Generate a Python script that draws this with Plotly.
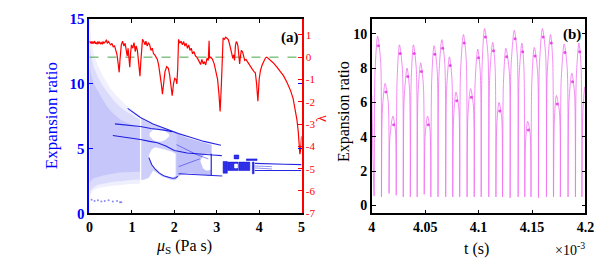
import plotly.graph_objects as go

FONT = "Liberation Serif"

# ---------------- Panel (a): bifurcation diagram (envelopes) ----------------
cloudA_mu = [0.0, 0.03, 0.1, 0.2, 0.3, 0.4, 0.5, 0.6, 0.7, 0.8, 0.9, 1.0, 1.1, 1.19]
cloudA_hi = [14.8, 13.5, 12.3, 11.4, 10.7, 10.1, 9.6, 9.2, 8.85, 8.55, 8.25, 8.0, 7.75, 7.55]
cloudA_lo = [1.2, 1.5, 1.8, 1.95, 2.0, 2.05, 2.1, 2.15, 2.2, 2.2, 2.25, 2.3, 2.3, 2.3]
midA_hi = [13.0, 12.3, 11.3, 10.5, 9.9, 9.4, 9.0, 8.6, 8.3, 8.0, 7.8, 7.6, 7.4, 7.2]
midA_lo = [1.6, 1.8, 2.0, 2.2, 2.3, 2.35, 2.4, 2.45, 2.5, 2.5, 2.55, 2.6, 2.6, 2.6]
coreA_hi = [11.5, 10.8, 10.0, 9.4, 8.8, 8.3, 7.9, 7.6, 7.3, 7.1, 6.95, 6.8, 6.7, 6.6]
coreA_lo = [2.3, 2.5, 2.7, 2.8, 2.9, 3.0, 3.05, 3.1, 3.15, 3.2, 3.2, 3.2, 3.2, 3.2]

cloudB_mu = [1.22, 1.3, 1.4, 1.5, 1.6, 1.7, 1.8, 1.9, 2.0, 2.05]
cloudB_hi = [7.35, 7.15, 7.0, 6.85, 6.7, 6.55, 6.45, 6.35, 6.25, 6.2]
cloudB_lo = [2.55, 2.6, 2.75, 3.3, 3.1, 2.85, 2.7, 2.6, 2.55, 2.6]

cloudC_mu = [2.05, 2.15, 2.25, 2.35, 2.45, 2.55, 2.65, 2.75, 2.88]
cloudC_hi = [6.15, 6.0, 5.9, 5.8, 5.7, 5.6, 5.5, 5.4, 5.3]
cloudC_lo = [2.7, 2.95, 3.05, 3.1, 3.1, 3.05, 3.0, 2.95, 2.9]

hole1_mu = [1.40, 1.47, 1.55, 1.65, 1.75, 1.85, 1.95, 2.03]
hole1_hi = [4.5, 4.95, 5.1, 5.05, 4.95, 4.85, 4.75, 4.6]
hole1_lo = [4.3, 3.75, 3.4, 3.1, 2.9, 2.8, 2.72, 2.9]
hole2_mu = [1.42, 1.5, 1.6, 1.7, 1.8, 1.88]
hole2_hi = [6.2, 6.45, 6.5, 6.45, 6.3, 6.1]
hole2_lo = [5.95, 5.65, 5.55, 5.55, 5.7, 5.95]
hole3_mu = [2.62, 2.68, 2.75, 2.82, 2.86]
hole3_hi = [4.1, 4.45, 4.6, 4.6, 4.5]
hole3_lo = [3.95, 3.45, 3.3, 3.3, 3.4]

# dense periodic-window blocks (mu0, mu1, y0, y1)
block_mu0 = [3.15, 3.26, 3.52, 3.41, 3.70, 3.84]
block_mu1 = [3.25, 3.50, 3.78, 3.52, 3.95, 3.88]
block_y0 = [3.1, 3.3, 3.3, 4.2, 4.08, 3.05]
block_y1 = [4.0, 3.95, 3.95, 4.5, 4.2, 3.95]
gap_mu0, gap_mu1, gap_y0, gap_y1 = [3.42], [3.49], [3.5], [3.8]

# branch lines
top_mu = [0.9, 1.2, 1.5, 1.8, 2.1, 2.4, 2.7, 3.1]
top_y = [8.1, 7.4, 6.9, 6.5, 6.15, 5.85, 5.55, 5.25]
up2_mu = [0.6, 0.9, 1.2, 1.45, 1.6, 1.8, 1.95]
up2_y = [6.9, 6.8, 6.7, 6.55, 6.5, 6.4, 6.3]
mid_mu = [0.55, 0.9, 1.2, 1.42, 1.6, 1.8, 2.0, 2.3, 2.6, 2.9, 3.12]
mid_y = [6.0, 5.85, 5.7, 5.55, 5.45, 5.2, 4.85, 4.65, 4.55, 4.5, 4.45]
low_mu = [1.40, 1.47, 1.55, 1.65, 1.75, 1.85, 1.95, 2.03, 2.08]
low_y = [4.3, 3.75, 3.4, 3.1, 2.9, 2.78, 2.7, 2.72, 2.85]
r4_mu = [2.1, 2.5, 2.9, 3.13]
r4_y = [3.05, 3.0, 2.93, 2.88]
c1_mu = [2.05, 2.3, 2.55, 2.8]
c1_y = [5.3, 4.9, 4.5, 4.2]
c2_mu = [2.1, 2.35, 2.6]
c2_y = [3.6, 3.9, 4.2]
vert_mu = [2.87, 2.87]
vert_y = [2.95, 4.6]
f1_mu = [3.9, 4.2, 4.6, 5.0]
f1_y = [3.85, 3.8, 3.78, 3.76]
f2_mu = [3.9, 4.1, 4.3]
f2_y = [3.65, 3.62, 3.6]
f3_mu = [3.9, 4.1, 4.3]
f3_y = [3.5, 3.45, 3.42]
f4_mu = [3.9, 4.2, 4.6, 5.0]
f4_y = [3.3, 3.3, 3.3, 3.3]

strip_mu = [0.05, 0.12, 0.2, 0.28, 0.36, 0.45, 0.55, 0.65, 0.72, 0.75]
strip_y = [1.05, 0.95, 1.0, 0.9, 0.95, 1.0, 0.9, 0.95, 0.85, 0.85]

# Lyapunov exponent
lyap_mu = [0.00, 0.02, 0.04, 0.06, 0.08, 0.10, 0.12, 0.14, 0.16, 0.18, 0.20, 0.22, 0.24, 0.26, 0.28, 0.30,
           0.32, 0.34, 0.37, 0.40, 0.42, 0.45, 0.48, 0.50, 0.53, 0.56, 0.59, 0.62, 0.65, 0.68, 0.70, 0.72,
           0.75, 0.78, 0.81, 0.84, 0.87, 0.89, 0.91, 0.93, 0.95, 0.97, 0.99, 1.02, 1.05, 1.08, 1.10, 1.13,
           1.15, 1.17, 1.19, 1.21, 1.23, 1.25, 1.28, 1.31, 1.33, 1.36, 1.39, 1.42, 1.45, 1.48, 1.51, 1.54,
           1.57, 1.60, 1.63, 1.66, 1.69, 1.72, 1.75, 1.78, 1.82, 1.86, 1.89, 1.92, 1.95, 1.98, 2.01, 2.04,
           2.06, 2.08, 2.10, 2.13, 2.16, 2.19, 2.22, 2.25, 2.28, 2.31, 2.34, 2.37, 2.40, 2.43, 2.46, 2.50,
           2.53, 2.56, 2.59, 2.62, 2.65, 2.68, 2.71, 2.74, 2.77, 2.80, 2.82, 2.83, 2.86, 2.90, 2.94, 2.98,
           3.02, 3.05, 3.08, 3.11, 3.13, 3.15, 3.18, 3.21, 3.24, 3.27, 3.30, 3.33, 3.36, 3.38, 3.40, 3.42,
           3.44, 3.46, 3.48, 3.50, 3.52, 3.54, 3.56, 3.58, 3.61, 3.63, 3.66, 3.69, 3.72, 3.76, 3.80, 3.84,
           3.88, 3.91, 3.94, 3.97, 4.00, 4.03, 4.07, 4.11, 4.15, 4.18, 4.25, 4.33, 4.42, 4.50, 4.58, 4.66,
           4.74, 4.80, 4.85, 4.89, 4.92, 4.945, 4.96, 4.975, 4.99, 5.00]
lyap = [0.72, 0.62, 0.7, 0.6, 0.68, 0.63, 0.72, 0.6, 0.66, 0.58, 0.7, 0.62, 0.67, 0.6, 0.65, 0.58,
        0.7, 0.62, 0.68, 0.78, 0.62, 0.7, 0.6, 0.55, 0.62, 0.45, 0.52, 0.3, 0.1, -0.35, -0.68, -0.1,
        0.55, 0.72, 0.5, 0.62, 0.35, 0.05, 0.4, -0.2, -0.45, 0.2, 0.55, 0.4, 0.65, 0.25, 0.5, 0.3,
        0.0, -0.4, -0.85, -0.2, 0.55, 0.8, 0.7, 0.55, 0.72, 0.5, 0.65, 0.55, 0.3, 0.4, 0.15, 0.1,
        0.0, -0.1, -0.35, -0.7, -1.15, -1.66, -1.05, -0.65, -0.42, -0.5, -0.8, -1.25, -1.73, -1.2, -0.95, -1.0,
        -1.2, -0.5, 0.8, 0.62, 0.72, 0.55, 0.7, 0.5, 0.62, 0.4, 0.55, 0.3, 0.4, 0.15, 0.25, 0.05,
        0.0, -0.1, -0.2, -0.33, -0.1, -0.3, -0.2, -0.35, -0.05, -0.15, 0.73, -0.05, 0.0, -0.1, -0.3, -0.6,
        -1.0, -1.6, -2.43, -1.2, 0.5, 0.86, 0.8, 0.9, 0.85, 0.8, 0.6, 0.3, 0.1, -0.05, 0.1, -0.15,
        0.5, 0.7, 0.65, 0.5, 0.1, -0.3, 0.05, 0.3, 0.23, 0.0, -0.15, -0.1, -0.2, -0.3, -0.45, -0.55,
        -0.65, -0.7, -1.2, -1.98, -1.0, -0.6, -0.35, -0.15, -0.03, 0.0, -0.1, -0.25, -0.45, -0.65, -0.85, -1.15,
        -1.5, -1.85, -2.3, -2.8, -3.3, -3.9, -4.35, -4.2, -3.8, -3.55]
zero_mu = [0, 5]
zero_l = [0, 0]

# ---------------- Panel (b): time series ----------------
start_t, start_v = 4.0, 6.4
trough_t = [4.0022, 4.0091, 4.0162, 4.0229, 4.0295, 4.0361, 4.0425, 4.0491, 4.0553, 4.0620,
            4.0692, 4.0758, 4.0823, 4.0892, 4.0959, 4.1024, 4.1095, 4.1162, 4.1224, 4.1295,
            4.1370, 4.1432, 4.1490, 4.1560, 4.1635, 4.1701, 4.1765, 4.1837, 4.1906, 4.1967]
trough_v = [0.55, 0.5, 0.7, 0.6, 0.5, 0.5, 0.5, 0.65, 0.5, 0.5, 0.5, 0.5, 0.5, 0.5, 0.5,
            0.5, 0.5, 0.5, 0.5, 0.45, 0.5, 0.5, 0.5, 0.45, 0.5, 0.5, 0.5, 0.5, 0.5, 0.5]
rise_t = [4.0030, 4.0099, 4.0170, 4.0237, 4.0303, 4.0369, 4.0433, 4.0499, 4.0561, 4.0628,
          4.0700, 4.0766, 4.0831, 4.0900, 4.0967, 4.1032, 4.1103, 4.1170, 4.1232, 4.1303,
          4.1378, 4.1440, 4.1498, 4.1568, 4.1643, 4.1709, 4.1773, 4.1845, 4.1914, 4.1975]
rise_v = [7.7, 5.5, 4.0, 7.3, 6.2, 7.3, 6.5, 4.0, 7.3, 7.5, 6.7, 5.1, 7.8, 5.3, 7.1,
          8.0, 7.4, 4.7, 7.1, 8.0, 7.4, 3.8, 7.2, 8.0, 7.8, 5.0, 7.3, 6.0, 7.4, 5.4]
peak_t = [4.0055, 4.0125, 4.0198, 4.0259, 4.0330, 4.0390, 4.0458, 4.0522, 4.0583, 4.0656,
          4.0727, 4.0788, 4.0858, 4.0925, 4.0992, 4.1056, 4.1132, 4.1191, 4.1255, 4.1334,
          4.1405, 4.1459, 4.1521, 4.1597, 4.1673, 4.1728, 4.1801, 4.1872, 4.1939, 4.1994]
peak_v = [9.85, 7.1, 5.2, 9.35, 8.0, 9.35, 8.3, 5.2, 9.3, 9.65, 8.65, 6.6, 9.95, 6.8, 9.1,
          10.3, 9.5, 6.0, 9.15, 10.2, 9.45, 4.9, 9.2, 10.3, 9.95, 6.4, 9.4, 7.7, 9.45, 6.9]
fall_t = [4.0083, 4.0154, 4.0221, 4.0287, 4.0353, 4.0417, 4.0483, 4.0545, 4.0612, 4.0684,
          4.0750, 4.0815, 4.0884, 4.0951, 4.1016, 4.1087, 4.1154, 4.1216, 4.1287, 4.1362,
          4.1424, 4.1482, 4.1552, 4.1627, 4.1693, 4.1757, 4.1829, 4.1898, 4.1959, 4.2000]
fall_v = [8.4, 6.0, 4.4, 7.9, 6.8, 7.9, 7.0, 4.4, 7.9, 8.2, 7.4, 5.6, 8.5, 5.8, 7.7,
          8.8, 8.1, 5.1, 7.8, 8.7, 8.0, 4.2, 7.8, 8.8, 8.5, 5.4, 8.0, 6.5, 8.0, 6.4]
# darker spots (small fast oscillations) just past each peak
spot_t = [4.0062, 4.0132, 4.0205, 4.0266, 4.0337, 4.0397, 4.0465, 4.0529, 4.0590, 4.0663,
          4.0734, 4.0795, 4.0865, 4.0932, 4.0999, 4.1063, 4.1139, 4.1198, 4.1262, 4.1341,
          4.1412, 4.1466, 4.1528, 4.1604, 4.1680, 4.1735, 4.1808, 4.1879, 4.1946]
spot_v = [9.3, 6.6, 4.7, 8.85, 7.5, 8.85, 7.8, 4.7, 8.8, 9.15, 8.15, 6.1, 9.45, 6.3, 8.6,
          9.8, 9.0, 5.5, 8.65, 9.7, 8.95, 4.4, 8.7, 9.8, 9.45, 5.9, 8.9, 7.2, 8.95]

fig = go.Figure()


def band(mu, lo, hi, color):
    fig.add_trace(go.Scatter(x=list(mu) + list(mu)[::-1], y=list(hi) + list(lo)[::-1],
                             fill="toself", fillcolor=color, mode="lines", line=dict(width=0),
                             hoverinfo="skip"))


def rects(m0, m1, y0, y1, color):
    xs, ys = [], []
    for a, b, c, d in zip(m0, m1, y0, y1):
        xs += [a, b, b, a, a, None]
        ys += [c, c, d, d, c, None]
    fig.add_trace(go.Scatter(x=xs, y=ys, fill="toself", fillcolor=color, mode="lines",
                             line=dict(width=0.6, color=color), hoverinfo="skip"))


def bline(mu, y, w=1.1, color="rgba(0,0,220,0.85)"):
    fig.add_trace(go.Scatter(x=mu, y=y, mode="lines", line=dict(color=color, width=w),
                             hoverinfo="skip"))


band(cloudA_mu, cloudA_lo, cloudA_hi, "rgba(50,50,240,0.08)")
band(cloudA_mu, midA_lo, midA_hi, "rgba(50,50,240,0.10)")
band(cloudA_mu, coreA_lo, coreA_hi, "rgba(50,50,240,0.12)")
band(cloudB_mu, cloudB_lo, cloudB_hi, "rgba(50,50,240,0.24)")
band(cloudC_mu, cloudC_lo, cloudC_hi, "rgba(50,50,240,0.30)")
for hm, hl, hh in [(hole1_mu, hole1_lo, hole1_hi), (hole2_mu, hole2_lo, hole2_hi),
                   (hole3_mu, hole3_lo, hole3_hi)]:
    band(hm, hl, hh, "white")

for m, y in [(top_mu, top_y), (up2_mu, up2_y), (mid_mu, mid_y), (low_mu, low_y), (r4_mu, r4_y),
             (vert_mu, vert_y), (f1_mu, f1_y), (f4_mu, f4_y)]:
    bline(m, y)
for m, y in [(f2_mu, f2_y), (f3_mu, f3_y), (c1_mu, c1_y), (c2_mu, c2_y)]:
    bline(m, y, 0.8, "rgba(0,0,220,0.55)")

rects(block_mu0, block_mu1, block_y0, block_y1, "rgba(10,10,225,0.85)")
rects(gap_mu0, gap_mu1, gap_y0, gap_y1, "white")

fig.add_trace(go.Scatter(x=strip_mu, y=strip_y, mode="markers",
                         marker=dict(size=2, color="rgba(60,60,240,0.6)"), hoverinfo="skip"))

fig.add_trace(go.Scatter(x=zero_mu, y=zero_l, mode="lines", yaxis="y2",
                         line=dict(color="rgb(70,165,70)", width=1, dash="dash"), hoverinfo="skip"))
fig.add_trace(go.Scatter(x=lyap_mu, y=lyap, mode="lines", yaxis="y2",
                         line=dict(color="red", width=1.2), hoverinfo="skip"))

# panel b series
ts, vs = [start_t], [start_v]
for i in range(len(peak_t)):
    ts += [trough_t[i], rise_t[i], peak_t[i], fall_t[i]]
    vs += [trough_v[i], rise_v[i], peak_v[i], fall_v[i]]
fig.add_trace(go.Scatter(x=ts, y=vs, mode="lines", xaxis="x2", yaxis="y3",
                         line=dict(color="rgb(240,110,240)", width=0.8, shape="spline", smoothing=0.8),
                         hoverinfo="skip"))
fig.add_trace(go.Scatter(x=spot_t, y=spot_v, mode="markers", xaxis="x2", yaxis="y3",
                         marker=dict(size=3, color="rgba(225,40,225,0.8)", symbol="circle"),
                         hoverinfo="skip"))


def bold(vals):
    return ["<b>%s</b>" % v for v in vals]


tickfont_b = dict(family=FONT, size=14, color="black")
common = dict(showgrid=False, zeroline=False, ticks="inside", ticklen=4, tickwidth=1.2, showline=True)
YDOM = [0.1854, 0.9563]

fig.update_layout(
    width=615, height=268, margin=dict(l=0, r=0, t=0, b=0),
    paper_bgcolor="white", plot_bgcolor="white", showlegend=False,
    font=dict(family=FONT),
    xaxis=dict(domain=[0.142, 0.4943], range=[0, 5], tickvals=[0, 1, 2, 3, 4, 5],
               ticktext=bold(["0", "1", "2", "3", "4", "5"]),
               linecolor="black", linewidth=1.5, mirror="ticks", tickcolor="black",
               tickfont=tickfont_b, anchor="y", **common),
    yaxis=dict(domain=YDOM, range=[0, 15], tickvals=[0, 5, 10, 15], ticktext=bold(["0", "5", "10", "15"]),
               anchor="x", linecolor="blue", linewidth=2, mirror="ticks", tickcolor="blue",
               tickfont=dict(family=FONT, size=15, color="blue"), **common),
    yaxis2=dict(overlaying="y", side="right", anchor="x", range=[-7, 1.71],
                tickvals=[-7, -6, -5, -4, -3, -2, -1, 0, 1],
                ticktext=["-7", "-6", "-5", "-4", "-3", "-2", "-1", "0", "1"],
                linecolor="red", linewidth=2, tickcolor="red",
                tickfont=dict(family=FONT, size=11, color="red"), **common),
    xaxis2=dict(domain=[0.6109, 0.9659], range=[4, 4.2], anchor="y3",
                tickvals=[4, 4.05, 4.1, 4.15, 4.2], ticktext=bold(["4", "4.05", "4.1", "4.15", "4.2"]),
                linecolor="black", linewidth=1.5, mirror="ticks", tickcolor="black",
                tickfont=tickfont_b, **common),
    yaxis3=dict(domain=YDOM, range=[-0.45, 10.85], anchor="x2", tickvals=[0, 2, 4, 6, 8, 10],
                ticktext=bold(["0", "2", "4", "6", "8", "10"]),
                linecolor="black", linewidth=1.5, mirror="ticks", tickcolor="black",
                tickfont=tickfont_b, **common),
)

W, H = 615.0, 268.0


def ann(text, px, py, size, color="black", angle=0):
    fig.add_annotation(text=text, x=px / W, y=1 - py / H, xref="paper", yref="paper",
                       showarrow=False, textangle=angle, xanchor="center", yanchor="middle",
                       font=dict(family=FONT, size=size, color=color))


ann("Expansion ratio", 48, 114, 17, "blue", -90)
ann("λ", 325, 118, 14, "red", -90)
ann("<i>μ</i><sub>S</sub> (Pa s)", 184, 254, 16)
ann("Expansion ratio", 348, 110, 16, "black", -90)
ann("t (s)", 483, 256, 16)
ann("×10<sup>-3</sup>", 578, 256, 14)
ann("<b>(a)</b>", 292, 31, 15)
ann("<b>(b)</b>", 580, 28, 15)

fig.write_html("out.html")
